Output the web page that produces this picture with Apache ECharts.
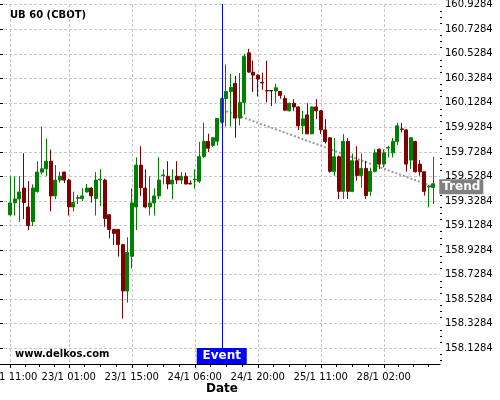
<!DOCTYPE html>
<html><head><meta charset="utf-8">
<script src="https://cdn.jsdelivr.net/npm/echarts@6/dist/echarts.min.js"></script>
<style>html,body{margin:0;padding:0;background:#fff}#c{width:500px;height:400px}</style>
</head><body><div id="c"></div>
<script>
// ---- data ----
const opens = [159.216,159.313,159.345,159.434,159.280,159.161,159.405,159.564,159.591,159.653,
159.370,159.499,159.564,159.499,159.280,159.350,159.348,159.402,159.434,159.348,
159.500,159.499,159.216,159.097,159.097,158.973,158.595,158.878,159.280,159.621,
159.434,159.280,159.313,159.370,159.535,159.530,159.467,159.530,159.499,159.530,
159.472,159.502,159.490,159.692,159.814,159.781,159.816,159.971,160.164,160.221,
160.287,160.004,160.132,160.536,160.379,160.354,160.295,160.229,160.229,160.225,
160.221,160.164,160.063,160.125,160.095,159.941,160.030,159.876,160.095,160.063,
159.908,159.843,159.570,159.689,159.407,159.814,159.407,159.656,159.537,159.594,
159.407,159.570,159.751,159.629,159.760,159.721,159.814,159.916,159.908,159.662,
159.814,159.629,159.567,159.443,159.439];
const highs = [159.530,159.530,159.530,159.718,159.491,159.464,159.653,159.937,159.837,159.748,
159.621,159.567,159.567,159.510,159.405,159.378,159.432,159.467,159.440,159.564,
159.588,159.510,159.220,159.100,159.100,158.980,159.032,159.432,159.685,159.775,
159.586,159.530,159.432,159.685,159.586,159.653,159.586,159.653,159.564,159.560,
159.497,159.586,159.810,159.966,159.876,159.850,160.005,160.170,160.441,160.365,
160.349,160.371,160.528,160.569,160.474,160.360,160.374,160.471,160.230,160.284,
160.225,160.190,160.130,160.158,160.100,160.063,160.125,160.100,160.158,160.070,
159.995,159.850,159.841,159.700,159.873,159.841,159.716,159.775,159.716,159.656,
159.600,159.751,159.755,159.748,159.778,159.843,159.965,159.965,159.910,159.850,
159.820,159.662,159.570,159.461,159.689];
const lows = [159.208,159.210,159.159,159.181,159.091,159.124,159.397,159.545,159.530,159.245,
159.343,159.478,159.475,159.210,159.243,159.302,159.329,159.397,159.316,159.210,
159.288,159.118,159.024,158.970,158.875,158.370,158.500,158.778,159.091,159.370,
159.270,159.210,159.210,159.343,159.464,159.424,159.343,159.467,159.467,159.464,
159.464,159.429,159.475,159.680,159.727,159.770,159.781,159.960,159.936,159.936,
159.844,159.944,160.034,160.374,160.216,160.180,160.235,160.134,160.102,160.126,
160.162,160.060,160.060,160.063,159.906,159.873,159.873,159.873,159.995,159.873,
159.797,159.560,159.534,159.345,159.345,159.345,159.400,159.494,159.437,159.345,
159.372,159.560,159.589,159.602,159.683,159.683,159.784,159.887,159.567,159.589,
159.560,159.534,159.372,159.277,159.304];
const closes = [159.313,159.345,159.402,159.316,159.129,159.434,159.564,159.591,159.653,159.370,
159.499,159.530,159.499,159.280,159.316,159.356,159.370,159.434,159.370,159.499,
159.506,159.186,159.097,159.064,158.973,158.595,158.908,159.313,159.621,159.437,
159.280,159.313,159.370,159.499,159.540,159.467,159.499,159.499,159.530,159.467,
159.467,159.506,159.690,159.814,159.759,159.844,160.001,160.164,160.221,160.254,
160.004,160.132,160.509,160.379,160.354,160.322,160.290,160.225,160.225,160.251,
160.189,160.069,160.125,160.095,159.941,159.998,159.876,160.095,160.063,159.908,
159.814,159.570,159.689,159.407,159.814,159.407,159.656,159.537,159.594,159.372,
159.570,159.721,159.629,159.721,159.765,159.814,159.941,159.912,159.629,159.843,
159.567,159.567,159.407,159.447,159.469];
const tickLabels = ['21/1 11:00','23/1 01:00','23/1 15:00','24/1 06:00','24/1 20:00','25/1 11:00','28/1 02:00'];
const tickBars = [0,13,27,41,55,69,83];
const yTicks = [158.1284,158.3284,158.5284,158.7284,158.9284,159.1284,159.3284,159.5284,
  159.7284,159.9284,160.1284,160.3284,160.5284,160.7284,160.9284];
const eventBar = 47;
const trendBars = [48, 94];
const trendValues = [160.06, 159.445];
const yMin = 158.0, yMax = 160.934;

// ---- build ----
const padBefore = 2, padAfter = 1;
const n = opens.length + padBefore + padAfter;
const cat = j => 'b' + j;
const categories = Array.from({length: n}, (_, i) => cat(i - padBefore));
const candleData = categories.map((c, i) => {
  const j = i - padBefore;
  return (j >= 0 && j < opens.length) ? [opens[j], closes[j], lows[j], highs[j]] : '-';
});
const tickPos = tickBars.map(b => b + padBefore);
const isTick = i => tickPos.indexOf(i) >= 0;
const trendData = categories.map((c, i) => {
  const k = trendBars.indexOf(i - padBefore);
  return k >= 0 ? trendValues[k] : '-';
});
const minorX = [];
for (let k = 0; k < tickPos.length - 1; k++) {
  const a = tickPos[k] + 0.5, b = tickPos[k + 1] + 0.5;
  for (let s = 1; s < 4; s++) minorX.push(a + (b - a) * s / 4);
}
for (let s = 1; s < 4; s++) minorX.push(tickPos[tickPos.length - 1] + 0.5 + 3.3 * s);
const minorY = [];
for (let k = 0; k < yTicks.length - 1; k++) for (let s = 1; s < 4; s++) minorY.push(yTicks[k] + (yTicks[k + 1] - yTicks[k]) * s / 4);
for (let v = yTicks[0] - 0.05; v > yMin; v -= 0.05) minorY.push(v);

const FONT = 'DejaVu Sans';
const gridLine = {show: true, lineStyle: {color: '#c8c8c8', type: [3, 2], width: 1}};
const chart = echarts.init(document.getElementById('c'), null, {renderer: 'canvas'});
chart.setOption({
  animation: false,
  backgroundColor: '#fff',
  grid: {left: -1, right: 60, top: 4, bottom: 36, containLabel: false, outerBoundsMode: 'none'},
  xAxis: [{
    type: 'category', data: categories, boundaryGap: true,
    axisLine: {show: true, lineStyle: {color: '#000', width: 1}},
    axisTick: {show: true, alignWithLabel: true, interval: i => isTick(i), length: 4, lineStyle: {color: '#000'}},
    axisLabel: {interval: i => isTick(i), margin: 8, fontSize: 10, fontFamily: FONT, color: '#000', hideOverlap: false,
      formatter: v => { const k = tickBars.indexOf(+v.slice(1)); return k >= 0 ? tickLabels[k] : ''; }},
    splitLine: Object.assign({interval: i => isTick(i), alignWithLabel: true}, gridLine)
  }, {
    type: 'value', min: 0, max: n, position: 'bottom',
    axisLine: {show: false}, axisLabel: {show: false}, splitLine: {show: false},
    axisTick: {show: true, customValues: minorX, length: 3, lineStyle: {color: '#000'}}
  }],
  yAxis: [{
    type: 'value', position: 'right', min: yMin, max: yMax, scale: true,
    axisLine: {show: true, lineStyle: {color: '#000', width: 1}},
    axisTick: {show: true, customValues: yTicks, length: 4, lineStyle: {color: '#000'}},
    axisLabel: {customValues: yTicks, margin: 5, fontSize: 10, fontFamily: FONT, color: '#000',
      formatter: v => v.toFixed(4)},
    splitLine: gridLine
  }, {
    type: 'value', position: 'right', min: yMin, max: yMax, scale: true,
    axisLine: {show: false}, axisLabel: {show: false}, splitLine: {show: false},
    axisTick: {show: true, customValues: minorY, length: 2, lineStyle: {color: '#000'}}
  }],
  graphic: [
    {type: 'text', left: 10, top: 10, style: {text: 'UB 60 (CBOT)', font: 'bold 10px "DejaVu Sans"', fill: '#000'}},
    {type: 'text', left: 15, top: 349, style: {text: 'www.delkos.com', font: 'bold 10px "DejaVu Sans"', fill: '#000'}},
    {type: 'text', x: 222, y: 383, style: {text: 'Date', font: 'bold 12px "DejaVu Sans"', fill: '#000', textAlign: 'center'}}
  ],
  series: [{
    type: 'candlestick', data: candleData, xAxisIndex: 0, yAxisIndex: 0, barWidth: 3.6,
    itemStyle: {color: '#008000', color0: '#800000', borderColor: '#008000', borderColor0: '#800000', borderWidth: 1},
    markLine: {silent: true, symbol: 'none', label: {show: false},
      lineStyle: {color: '#0000ff', width: 1, type: 'solid'},
      data: [{xAxis: cat(eventBar)}]},
    markPoint: {silent: true, data: [{coord: [cat(eventBar), yMin], symbol: 'rect', symbolSize: [50, 16], symbolOffset: [0, -8],
      itemStyle: {color: '#0000ff'},
      label: {show: true, position: 'inside', formatter: 'Event', color: '#fff', fontWeight: 'bold', fontSize: 12, fontFamily: FONT}}]}
  }, {
    type: 'line', data: trendData, xAxisIndex: 0, yAxisIndex: 0, connectNulls: true, symbol: 'none', z: 1,
    lineStyle: {color: '#999', width: 2, type: [2, 2]},
    endLabel: {show: true, formatter: 'Trend', distance: 6, color: '#fff', backgroundColor: '#808080',
      fontWeight: 'bold', fontSize: 12, fontFamily: FONT, padding: [1, 3], lineHeight: 13}
  }]
});
</script></body></html>
